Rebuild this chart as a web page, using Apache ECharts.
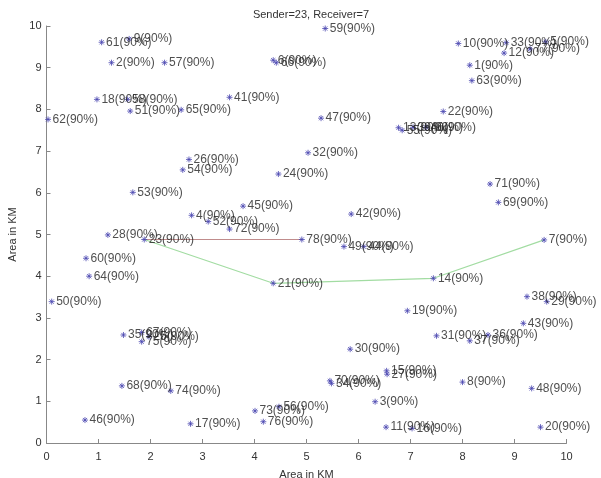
<!DOCTYPE html>
<html>
<head>
<meta charset="utf-8">
<script src="https://cdn.jsdelivr.net/npm/echarts@6/dist/echarts.min.js"></script>
<style>
  html, body { margin: 0; padding: 0; background: #fff; }
  #chart { width: 601px; height: 478px; }
</style>
</head>
<body>
<div id="chart"></div>
<script>
// node ids and their positions (km)
const nodeIds = [
  1, 2, 3, 4, 5, 6, 7, 8, 9, 10,
  11, 12, 13, 14, 15, 16, 17, 18, 19, 20,
  21, 22, 23, 24, 25, 26, 27, 28, 29, 30,
  31, 32, 33, 34, 35, 36, 37, 38, 39, 40,
  41, 42, 43, 44, 45, 46, 47, 48, 49, 50,
  51, 52, 53, 54, 55, 56, 57, 58, 59, 60,
  61, 62, 63, 64, 65, 66, 67, 68, 69, 70,
  71, 72, 73, 74, 75, 76, 77, 78
]
const nodeX = [
  8.14, 1.25, 6.32, 2.79, 9.60, 4.36, 9.57, 8.00, 1.59, 7.92,
  6.53, 8.80, 6.77, 7.44, 6.54, 7.03, 2.77, 0.97, 6.94, 9.50,
  4.36, 7.63, 1.88, 4.46, 1.97, 2.74, 6.55, 1.18, 9.62, 5.84,
  7.50, 5.03, 8.84, 5.48, 1.48, 8.49, 8.14, 9.24, 7.05, 7.30,
  3.52, 5.86, 9.17, 6.10, 3.78, 0.74, 5.28, 9.33, 5.72, 0.10,
  1.61, 3.11, 1.66, 2.62, 6.84, 4.47, 2.27, 1.56, 5.36, 0.76,
  1.06, 0.03, 8.18, 0.82, 2.59, 4.42, 1.83, 1.45, 8.69, 5.45,
  8.53, 3.52, 4.01, 2.39, 1.83, 4.17, 9.30, 4.91
]
const nodeY = [
  9.06, 9.12, 0.99, 5.46, 9.62, 9.18, 4.87, 1.46, 9.69, 9.58,
  0.38, 9.35, 7.56, 3.95, 1.73, 0.35, 0.46, 8.24, 3.17, 0.38,
  3.83, 7.95, 4.88, 6.45, 2.55, 6.80, 1.65, 4.99, 3.39, 2.25,
  2.57, 6.96, 9.60, 1.43, 2.59, 2.59, 2.45, 3.51, 7.57, 7.57,
  8.29, 5.49, 2.87, 4.71, 5.68, 0.55, 7.79, 1.31, 4.71, 3.39,
  7.96, 5.31, 6.01, 6.55, 7.50, 0.87, 9.12, 8.24, 9.94, 4.43,
  9.61, 7.76, 8.69, 4.00, 7.99, 9.12, 2.65, 1.37, 5.77, 1.49,
  6.21, 5.13, 0.77, 1.25, 2.43, 0.51, 9.45, 4.88
]
const reliability = '90%'
const sender = 23
const receiver = 7
const greenRoute = [23, 21, 14, 7]
const redRoute = [23, 78]

const chart = echarts.init(document.getElementById('chart'))

function routePoints (route) {
  return route.map(id => {
    const i = nodeIds.indexOf(id)
    return [nodeX[i], nodeY[i]]
  })
}

const nodes = nodeIds.map((id, i) => ({ name: String(id), value: [nodeX[i], nodeY[i]] }))
const star = 'path://M0,5L10,5M5,0L5,10M1.5,1.5L8.5,8.5M1.5,8.5L8.5,1.5'
const font = 'Liberation Sans, Arial, sans-serif'

const option = {
  animation: false,
  title: {
    text: 'Sender=' + sender + ', Receiver=' + receiver,
    left: 306,
    top: 4,
    textAlign: 'center',
    textStyle: { fontFamily: font, fontSize: 11, fontWeight: 'normal', color: '#333' }
  },
  grid: { left: 46.5, right: 34.5, top: 26, bottom: 35, containLabel: false, outerBoundsMode: 'none' },
  xAxis: {
    type: 'value',
    min: 0,
    max: 10,
    interval: 1,
    name: 'Area in KM',
    nameLocation: 'middle',
    nameGap: 26,
    nameTextStyle: { fontFamily: font, fontSize: 11, color: '#333' },
    axisLine: { lineStyle: { color: '#888' } },
    axisTick: { inside: true, length: 4, lineStyle: { color: '#888' } },
    axisLabel: { fontFamily: font, fontSize: 11, color: '#333', margin: 8 },
    splitLine: { show: false }
  },
  yAxis: {
    type: 'value',
    min: 0,
    max: 10,
    interval: 1,
    name: 'Area in KM',
    nameLocation: 'middle',
    nameGap: 20,
    nameTextStyle: { fontFamily: font, fontSize: 11, color: '#333' },
    axisLine: { show: true, lineStyle: { color: '#888' } },
    axisTick: { show: true, inside: true, length: 4, lineStyle: { color: '#888' } },
    axisLabel: { fontFamily: font, fontSize: 11, color: '#333', margin: 5 },
    splitLine: { show: false }
  },
  series: [
    {
      type: 'line',
      data: routePoints(redRoute),
      symbol: 'none',
      lineStyle: { color: '#c08c8c', width: 1 },
      z: 1
    },
    {
      type: 'line',
      data: routePoints(greenRoute),
      symbol: 'none',
      lineStyle: { color: '#a2dca2', width: 1.2 },
      z: 1
    },
    {
      type: 'scatter',
      data: nodes,
      symbol: star,
      symbolSize: 6,
      itemStyle: { color: 'transparent', borderColor: '#4a46b0', borderWidth: 1 },
      label: {
        show: true,
        position: 'right',
        distance: 1,
        formatter: p => p.name + '(' + reliability + ')',
        fontFamily: font,
        fontSize: 12,
        color: '#222'
      },
      z: 2
    }
  ]
}

chart.setOption(option)
</script>
</body>
</html>
